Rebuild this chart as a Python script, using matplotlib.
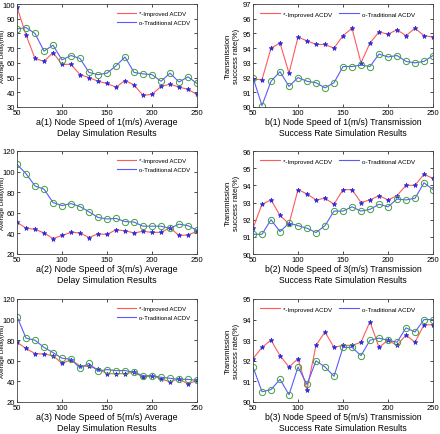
import numpy as np
import matplotlib
matplotlib.use('Agg')
import matplotlib.pyplot as plt

plt.rcParams['font.family'] = ['Liberation Sans', 'DejaVu Sans']

# Tamaño de la red (número de nodos) en el eje x
nodos = list(range(50, 251, 10))

# a(1): retardo medio, velocidad 1 m/s
a1_mejorado = [98, 79, 63, 61, 67, 59, 59, 52, 50, 47.5, 46, 43.5, 48, 45, 38, 38.5, 44, 45.5, 43.5, 42, 38.5]
a1_tradicional = [83, 84, 80, 68, 72, 62, 65, 63, 53.5, 52, 53, 58, 64, 53.5, 52.5, 52, 47.5, 53, 47, 50.5, 46]

# b(1): tasa de éxito, velocidad 1 m/s
b1_mejorado = [91.9, 91.85, 94.0, 94.35, 92.3, 94.75, 94.5, 94.25, 94.25, 94.0, 94.85, 95.35, 93.0, 94.35, 95.1, 94.95, 95.25, 94.85, 95.35, 94.85, 94.75]
b1_tradicional = [92.0, 90.1, 91.75, 92.4, 91.4, 92.0, 91.75, 91.65, 91.3, 91.65, 92.75, 92.75, 92.85, 92.75, 93.6, 93.4, 93.5, 93.1, 93.0, 93.1, 93.5]

# a(2): retardo medio, velocidad 3 m/s
a2_mejorado = [51, 45, 44, 40.5, 35, 38, 41, 40.5, 36, 39.5, 39, 43.5, 42.5, 40.5, 42, 41, 41, 45.5, 38, 38.5, 42]
a2_tradicional = [107, 98, 86, 83, 70, 67, 69, 66, 61, 55.5, 54, 54.5, 51.5, 51, 47, 47, 47, 45, 49, 47.5, 43]

# b(2): tasa de éxito, velocidad 3 m/s
b2_mejorado = [91.5, 92.9, 93.15, 92.25, 91.75, 93.75, 93.5, 93.15, 93.25, 92.9, 93.75, 93.75, 93.0, 93.15, 93.4, 93.15, 93.4, 94.0, 94.0, 94.65, 94.4]
b2_tradicional = [91.15, 91.15, 92.0, 91.3, 91.8, 91.65, 91.5, 91.25, 91.65, 92.5, 92.5, 92.75, 92.5, 92.6, 92.9, 92.75, 93.2, 93.15, 93.25, 94.15, 93.75]

# a(3): retardo medio, velocidad 5 m/s
a3_mejorado = [78, 72, 67, 66.5, 65, 57.5, 61, 55, 54.5, 52, 47.5, 47.5, 47.5, 49, 44, 45.5, 42.5, 39.5, 42.5, 37.5, 41]
a3_tradicional = [103, 82, 80, 73, 68, 62.5, 61.5, 53, 57.5, 50, 51.5, 50.5, 50.5, 49, 45.5, 45.5, 44, 43, 42, 42, 41]

# b(3): tasa de éxito, velocidad 5 m/s
b3_mejorado = [92.1, 92.65, 93.0, 92.25, 91.7, 92.1, 90.6, 92.75, 93.4, 92.65, 92.75, 92.75, 92.9, 93.9, 92.65, 93.0, 92.75, 93.25, 92.9, 93.75, 93.75]
b3_tradicional = [91.7, 90.5, 90.6, 91.1, 90.35, 91.7, 90.85, 92.0, 91.7, 91.25, 92.65, 92.65, 92.25, 93.0, 93.1, 93.0, 92.9, 93.6, 93.4, 94.0, 94.0]

leyenda = ['*-Improved ACDV', 'o-Traditional ACDV']

titulos = [
    'a(1) Node Speed of 1(m/s) Average\nDelay Simulation Results',
    'b(1) Node Speed of 1(m/s) Transmission\nSuccess Rate Simulation Results',
    'a(2) Node Speed of 3(m/s) Average\nDelay Simulation Results',
    'b(2) Node Speed of 3(m/s) Transmission\nSuccess Rate Simulation Results',
    'a(3) Node Speed of 5(m/s) Average\nDelay Simulation Results',
    'b(3) Node Speed of 5(m/s) Transmission\nSuccess Rate Simulation Results',
]

series = [
    (a1_mejorado, a1_tradicional, (30, 100), np.arange(30, 101, 10)),
    (b1_mejorado, b1_tradicional, (90, 97), np.arange(90, 98, 1)),
    (a2_mejorado, a2_tradicional, (20, 120), np.arange(20, 121, 20)),
    (b2_mejorado, b2_tradicional, (90, 96), np.arange(90, 97, 1)),
    (a3_mejorado, a3_tradicional, (20, 120), np.arange(20, 121, 20)),
    (b3_mejorado, b3_tradicional, (90, 95), np.arange(90, 96, 1)),
]

fig = plt.figure(figsize=(4.4, 4.35), dpi=100)

izq = [17 / 440, 253 / 440]
abajo = [1 - 108 / 435, 1 - 255 / 435, 1 - 403 / 435]
ancho = 180 / 440
alto = 103 / 435

for i, (mej, trad, ylim, yticks) in enumerate(series):
    fila, col = divmod(i, 2)
    ax = fig.add_axes([izq[col], abajo[fila], ancho, alto])

    l1, = ax.plot(nodos, mej, color='#ff5a5a', lw=0.8)
    ax.plot(nodos, mej, ls='none', marker='*', ms=3.5, color='#2a2ad8', mew=0.5)
    l2, = ax.plot(nodos, trad, color='#5a5aff', lw=0.8)
    ax.plot(nodos, trad, ls='none', marker='o', ms=4.5, mfc='none', mec='#3fa03f', mew=0.7)

    ax.set_xlim(50, 250)
    ax.set_xticks([50, 100, 150, 200, 250])
    ax.set_ylim(*ylim)
    ax.set_yticks(yticks)
    ax.tick_params(direction='in', top=True, right=True, length=2, width=0.5,
                   labelsize=5.5, pad=1.5)
    for s in ax.spines.values():
        s.set_linewidth(0.6)
        s.set_color('#444444')

    if col == 0:
        ax.set_xlabel(titulos[i], fontsize=6.4, labelpad=1, linespacing=1.15)
        ax.set_ylabel('Average Delay(ms)', fontsize=4.5)
        ax.yaxis.set_label_coords(-0.068, 0.5)
        ax.legend([l1, l2], leyenda, loc='upper right', frameon=False, fontsize=4.3,
                  handlelength=3.2, handletextpad=0.4, labelspacing=0.7,
                  bbox_to_anchor=(0.99, 0.985))
    else:
        ax.set_xlabel(titulos[i], fontsize=6.2, labelpad=1, linespacing=1.15)
        ax.set_ylabel('Transmission\nsuccess rate(%)', fontsize=5.5, labelpad=2, linespacing=1.1)
        ax.legend([l1, l2], leyenda, loc='upper center', ncol=2, frameon=False, fontsize=4.5,
                  handlelength=3.2, handletextpad=0.5, columnspacing=1.2,
                  bbox_to_anchor=(0.47, 0.985))

plt.savefig('out.png', dpi=100)
